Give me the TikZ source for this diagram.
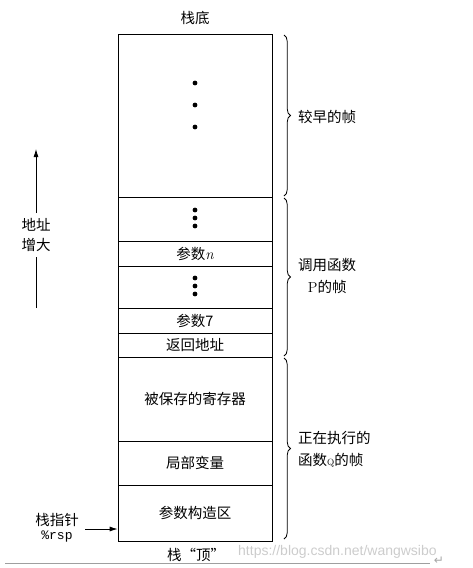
\documentclass[tikz,border=0pt]{standalone}
\usepackage{fontspec}
\newfontfamily\cjk{Noto Sans CJK SC}
\newfontfamily\wmfont{Liberation Sans}
\newfontfamily\monofnt{Liberation Mono}
\newfontfamily\symfnt{DejaVu Sans}
\usetikzlibrary{decorations.pathreplacing,arrows.meta}
\begin{document}
\begin{tikzpicture}[x=1pt,y=-1pt,
  cell/.style={draw, line width=0.8pt, minimum width=154pt, anchor=north, inner sep=0pt,
    font=\cjk\fontsize{14.5}{16}\selectfont},
  lbl/.style={font=\cjk\fontsize{14.5}{22}\selectfont, inner sep=0pt},
  dotc/.style={circle, fill, inner sep=0pt, minimum size=4.8pt},
  brc/.style={decorate, decoration={brace, amplitude=6.5pt}, line width=0.8pt},
  arr/.style={line width=0.8pt, -{Latex[length=8pt,width=5pt]}}
]
\useasboundingbox (0,0) rectangle (473,568);

% stack cells
\node[cell, minimum height=163pt] (early) at (195,34) {};
\node[cell, minimum height=44pt] (d1) at (195,197) {};
\node[cell, minimum height=25pt] (argn) at (195,241) {参数{\rmfamily\itshape\fontsize{15}{16}\selectfont n}};
\node[cell, minimum height=42pt] (d2) at (195,266) {};
\node[cell, minimum height=25pt] (arg7) at (195,308) {参数7};
\node[cell, minimum height=24pt] (ret) at (195,333) {返回地址};
\node[cell, minimum height=84pt] (saved) at (195,357) {被保存的寄存器};
\node[cell, minimum height=44pt] (local) at (195,441) {局部变量};
\node[cell, minimum height=56pt] (build) at (195,485) {参数构造区};

% dots
\node[dotc] (e1) at (195,83) {};
\node[dotc] (e2) at (195,105) {};
\node[dotc] (e3) at (195,127) {};
\node[dotc] (f1) at (195,210) {};
\node[dotc] (f2) at (195,218) {};
\node[dotc] (f3) at (195,226) {};
\node[dotc] (g1) at (195,278) {};
\node[dotc] (g2) at (195,286) {};
\node[dotc] (g3) at (195,294) {};

% top / bottom labels
\node[lbl] (stackbottom) at (195,18) {栈底};
\node[lbl] (stacktop) at (196,555) {栈“顶”};

% braces
\draw[brc] (284,35) -- (284,196);
\draw[brc] (284,198) -- (284,356);
\draw[brc] (284,358) -- (284,539);
\node[lbl, anchor=west] (bl1) at (298,117) {较早的帧};
\node[lbl, anchor=west, align=center] (bl2) at (298,276) {调用函数\\{\rmfamily P}的帧};
\node[lbl, anchor=west, align=left] (bl3) at (298,449) {正在执行的\\函数{\rmfamily\small Q}的帧};

% address growth arrow
\node[lbl, align=center, font=\cjk\fontsize{14.5}{20}\selectfont, inner ysep=5pt] (addr) at (36,235) {地址\\增大};
\coordinate (atop) at (36,149);
\coordinate (abot) at (36,308);
\draw[line width=0.8pt] (abot) -- (addr.south);
\draw[arr] (addr.north) -- (atop);

% stack pointer
\node[lbl, align=center, font=\cjk\fontsize{14.5}{14}\selectfont] (sp) at (57,528) {栈指针\\{\monofnt\fontsize{13}{13}\selectfont\%rsp}};
\coordinate (spstart) at (85,529);
\draw[arr] (spstart) -- (build.west |- spstart);

% watermark and bottom rule
\node[anchor=west, inner sep=0pt, font=\wmfont\fontsize{14}{14}\selectfont, text=gray!40] (wm) at (238,552) {https://blog.csdn.net/wangwsibo};
\coordinate (ruleA) at (5,563);
\coordinate (ruleB) at (430,563);
\draw[gray!75, line width=0.8pt] (ruleA) -- (ruleB);
\node[inner sep=0pt, font=\symfnt\fontsize{12}{12}\selectfont, text=gray!70] (retsym) at (439,561) {↵};
\end{tikzpicture}
\end{document}
